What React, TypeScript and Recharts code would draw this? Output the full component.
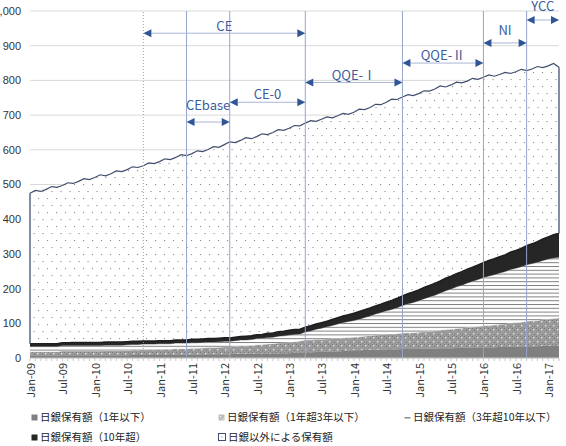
import React from 'react';
import { AreaChart, Area, XAxis, YAxis, CartesianGrid, ReferenceLine, Legend } from 'recharts';

// ---- categories (monthly, Jan-09 .. Mar-17) ----
const YEARS = ['09', '10', '11', '12', '13', '14', '15', '16', '17'];
const MONTH_NAMES = ['Jan', 'Feb', 'Mar', 'Apr', 'May', 'Jun', 'Jul', 'Aug', 'Sep', 'Oct', 'Nov', 'Dec'];
const ALL_MONTHS: string[] = [];
YEARS.forEach((y) => MONTH_NAMES.forEach((m) => ALL_MONTHS.push(`${m}-${y}`)));
const MONTHS = ALL_MONTHS.slice(0, ALL_MONTHS.indexOf('Mar-17') + 1);

const TICK_LABELS = [
  'Jan-09', 'Jul-09', 'Jan-10', 'Jul-10', 'Jan-11', 'Jul-11', 'Jan-12', 'Jul-12', 'Jan-13',
  'Jul-13', 'Jan-14', 'Jul-14', 'Jan-15', 'Jul-15', 'Jan-16', 'Jul-16', 'Jan-17',
];
const Y_TICKS = [0, 100, 200, 300, 400, 500, 600, 700, 800, 900, 1000];

// ---- series ----
// total outstanding (top line)
const TOTAL = [
  475, 483, 480, 486, 494, 492, 497, 505, 503, 509, 517, 514,
  520, 528, 525, 531, 539, 537, 543, 551, 549, 554, 562, 560,
  566, 574, 572, 578, 586, 583, 589, 597, 595, 601, 609, 607,
  615, 623, 621, 627, 635, 632, 638, 646, 644, 650, 658, 656,
  662, 670, 669, 677, 684, 682, 688, 695, 692, 698, 705, 702,
  708, 717, 716, 722, 731, 730, 737, 746, 745, 752, 759, 756,
  762, 770, 769, 775, 784, 781, 787, 795, 793, 798, 806, 803,
  809, 816, 812, 817, 823, 820, 825, 832, 828, 833, 840, 837,
  842, 849, 838,
];
// BOJ holdings, <= 1 year
const BOJ_LE1 = [
  7, 7, 7, 7, 7, 7, 8, 8, 8, 8, 8, 8,
  8, 8, 8, 8, 8, 8, 8, 9, 9, 9, 9, 9,
  9, 9, 9, 10, 10, 10, 10, 10, 10, 11, 11, 11,
  11, 11, 12, 12, 12, 12, 13, 13, 13, 13, 14, 14,
  14, 15, 15, 16, 16, 17, 17, 18, 19, 19, 20, 21,
  22, 22, 23, 23, 24, 24, 25, 25, 25, 26, 26, 26,
  26, 27, 27, 27, 28, 28, 28, 29, 29, 30, 30, 30,
  31, 31, 31, 32, 32, 33, 33, 33, 34, 34, 34, 35,
  35, 36, 36,
];
// BOJ holdings, 1-3 years
const BOJ_1TO3 = [
  11, 11, 11, 11, 11, 11, 12, 12, 12, 12, 12, 12,
  12, 12, 13, 13, 13, 13, 14, 14, 14, 15, 15, 15,
  16, 16, 16, 17, 17, 17, 18, 18, 19, 19, 19, 20,
  21, 21, 22, 23, 23, 24, 25, 26, 27, 28, 29, 30,
  31, 32, 34, 36, 36, 37, 37, 37, 37, 38, 38, 38,
  38, 39, 40, 41, 42, 43, 44, 44, 45, 46, 47, 47,
  48, 49, 50, 51, 52, 54, 55, 56, 57, 58, 59, 61,
  62, 63, 64, 65, 66, 68, 69, 70, 72, 73, 74, 76,
  77, 78, 79,
];
// BOJ holdings, 3-10 years
const BOJ_3TO10 = [
  15, 15, 15, 15, 15, 15, 16, 16, 16, 16, 16, 16,
  16, 16, 16, 16, 16, 16, 16, 16, 16, 16, 16, 16,
  16, 16, 16, 16, 16, 16, 16, 16, 16, 16, 16, 16,
  16, 16, 16, 17, 17, 17, 18, 18, 19, 19, 20, 20,
  21, 21, 20, 23, 26, 29, 32, 35, 38, 41, 44, 46,
  48, 51, 54, 57, 61, 64, 67, 71, 75, 79, 83, 87,
  91, 95, 99, 103, 107, 112, 116, 120, 124, 128, 132, 135,
  139, 142, 145, 148, 151, 154, 157, 160, 163, 165, 168, 170,
  173, 174, 175,
];
// BOJ holdings, > 10 years
const BOJ_OVER10 = [
  8, 8, 8, 8, 8, 8, 8, 8, 9, 9, 9, 9,
  9, 9, 9, 9, 9, 9, 9, 9, 9, 9, 9, 9,
  9, 9, 9, 9, 9, 9, 10, 10, 10, 10, 10, 10,
  10, 10, 10, 10, 11, 11, 11, 11, 12, 12, 13, 13,
  14, 14, 14, 14, 15, 15, 16, 16, 17, 18, 19, 20,
  21, 22, 22, 23, 23, 24, 25, 26, 27, 28, 29, 30,
  31, 32, 33, 34, 35, 36, 37, 38, 39, 40, 41, 42,
  43, 45, 46, 47, 48, 50, 51, 53, 55, 57, 59, 62,
  64, 67, 69,
];

const SERIES_NAMES = [
  '日銀保有額（1年以下）',
  '日銀保有額（1年超3年以下）',
  '日銀保有額（3年超10年以下）',
  '日銀保有額（10年超）',
  '日銀以外による保有額',
];

// policy periods
const PERIOD_LINES = ['Jun-11', 'Feb-12', 'Apr-13', 'Oct-14', 'Jan-16', 'Sep-16'];
const CE_START = 'Oct-10';
const PERIODS = [
  { label: 'CE', from: 'Oct-10', to: 'Apr-13', y: 936, lift: 8 },
  { label: 'CEbase', from: 'Jun-11', to: 'Feb-12', y: 680, lift: 18 },
  { label: 'CE-0', from: 'Feb-12', to: 'Apr-13', y: 737, lift: 9 },
  { label: 'QQE-Ⅰ', from: 'Apr-13', to: 'Oct-14', y: 794, lift: 8 },
  { label: 'QQE-Ⅱ', from: 'Oct-14', to: 'Jan-16', y: 850, lift: 9 },
  { label: 'NI', from: 'Jan-16', to: 'Sep-16', y: 908, lift: 13 },
  { label: 'YCC', from: 'Sep-16', to: 'Mar-17', y: 974, lift: 15 },
];

const data = MONTHS.map((m, i) => ({
  month: m,
  total: TOTAL[i],
  le1: BOJ_LE1[i],
  y1to3: BOJ_1TO3[i],
  y3to10: BOJ_3TO10[i],
  over10: BOJ_OVER10[i],
}));

const bojTop = (i: number) => BOJ_LE1[i] + BOJ_1TO3[i] + BOJ_3TO10[i] + BOJ_OVER10[i];
const LAST = MONTHS.length - 1;

const CJK = '"Noto Sans CJK JP", "Noto Sans", sans-serif';
const NAVY = '#414F6E';
const ARROW = '#2F5597';

const XTick = (props: any) => {
  const { x, y, payload } = props;
  if (!TICK_LABELS.includes(payload.value)) return <g />;
  return (
    <g transform={`translate(${x},${y})`}>
      <text x={0} y={0} dy="0.45em" textAnchor="end" transform="rotate(-90)" fontSize={11} fill="#333" fontFamily={CJK}>
        {payload.value}
      </text>
    </g>
  );
};

const makeArrowShape = (label: string, lift: number) => (p: any) => {
  const { x1, y1, x2 } = p;
  const y = y1;
  const L = 8;
  const H = 4;
  return (
    <g>
      <line x1={x1 + L} y1={y} x2={x2 - L} y2={y} stroke="#A9B7D6" strokeWidth={1} />
      <polygon points={`${x1},${y} ${x1 + L},${y - H} ${x1 + L},${y + H}`} fill={ARROW} />
      <polygon points={`${x2},${y} ${x2 - L},${y - H} ${x2 - L},${y + H}`} fill={ARROW} />
      <text x={(x1 + x2) / 2} y={y - lift} textAnchor="middle" dominantBaseline="central" fontSize={13} fill="#3C5C9E" fontFamily={CJK}>
        {label}
      </text>
    </g>
  );
};

const LegendIcon = ({ kind }: { kind: number }) => {
  switch (kind) {
    case 0:
      return <svg width={7} height={7}><rect x={0.5} y={0.5} width={6} height={6} fill="#808080" /></svg>;
    case 1:
      return <svg width={7} height={7}><rect x={0.5} y={0.5} width={6} height={6} fill="#BDBDBD" /><rect x={2} y={2} width={1} height={1} fill="#fff" /><rect x={4.5} y={4.5} width={1} height={1} fill="#fff" /></svg>;
    case 2:
      return <svg width={7} height={7}><rect x={0.5} y={3} width={6} height={1.5} fill="#8c8c8c" /></svg>;
    case 3:
      return <svg width={7} height={7}><rect x={0.5} y={0.5} width={6} height={6} fill="#262626" /></svg>;
    default:
      return (
        <svg width={8} height={8}>
          <rect x={0.5} y={0.5} width={7} height={7} fill="#fff" stroke={NAVY} strokeWidth={1} />
          <rect x={3.5} y={3.5} width={1} height={1} fill="#777" />
        </svg>
      );
  }
};

const LEGEND_POS = [
  { left: 31, top: 6 },
  { left: 218, top: 6 },
  { left: 404, top: 6 },
  { left: 31, top: 26 },
  { left: 218, top: 26 },
];

const renderLegend = () => (
  <div style={{ position: 'relative', height: 40, width: 566 }}>
    {SERIES_NAMES.map((name, i) => (
      <div
        key={name}
        style={{
          position: 'absolute',
          left: LEGEND_POS[i].left,
          top: LEGEND_POS[i].top,
          display: 'flex',
          alignItems: 'center',
          whiteSpace: 'nowrap',
          fontFamily: CJK,
          fontSize: 10.5,
          lineHeight: '14px',
          color: '#222',
        }}
      >
        <LegendIcon kind={i} />
        <span style={{ marginLeft: 2 }}>{name}</span>
      </div>
    ))}
  </div>
);

export default function App() {
  return (
    <div style={{ position: 'absolute', left: 0, top: 0 }}>
      <AreaChart width={566} height={446} data={data} margin={{ top: 11, right: 7, bottom: 2, left: 0 }}>
        <defs>
          <pattern id="dots" patternUnits="userSpaceOnUse" width={9} height={14}>
            <rect width={9} height={14} fill="#FFFFFF" />
            <rect x={2} y={2} width={1.1} height={1.1} fill="#8C8C8C" />
            <rect x={6.5} y={9} width={1.1} height={1.1} fill="#8C8C8C" />
          </pattern>
          <pattern id="hlines" patternUnits="userSpaceOnUse" width={4} height={3.8}>
            <rect width={4} height={3.8} fill="#FFFFFF" />
            <rect x={0} y={0} width={4} height={1} fill="#808080" />
          </pattern>
          <pattern id="pat13b" patternUnits="userSpaceOnUse" width={8} height={8}>
            <rect width={8} height={8} fill="#9A9A9A" />
            <rect x={0} y={0} width={1} height={1} fill="#7C7C7C" />
            <rect x={2} y={2} width={1} height={1} fill="#7C7C7C" />
            <rect x={4} y={0} width={1} height={1} fill="#7C7C7C" />
            <rect x={6} y={6} width={1} height={1} fill="#7C7C7C" />
            <rect x={1} y={5} width={1.3} height={1.3} fill="#EDEDED" />
            <rect x={5} y={1} width={1.3} height={1.3} fill="#EDEDED" />
          </pattern>
        </defs>
        <CartesianGrid vertical={false} stroke="#D9D9D9" />
        <XAxis
          dataKey="month"
          interval={0}
          tickSize={3}
          tickMargin={2}
          tickLine={{ stroke: '#C8C8C8' }}
          axisLine={{ stroke: '#C8C8C8' }}
          tick={<XTick />}
          height={46}
        />
        <YAxis
          width={30}
          domain={[0, 1000]}
          ticks={Y_TICKS}
          interval={0}
          axisLine={false}
          tickLine={false}
          tickSize={0}
          tickMargin={9}
          tickFormatter={(v: number) => v.toLocaleString('en-US')}
          tick={{ fontSize: 11, fill: '#333', fontFamily: '"Liberation Sans", Arial, sans-serif' }}
        />
        <Area
          type="linear"
          dataKey="total"
          name={SERIES_NAMES[4]}
          fill="url(#dots)"
          fillOpacity={1}
          stroke={NAVY}
          strokeWidth={1.2}
          isAnimationActive={false}
          dot={false}
          activeDot={false}
        />
        <Area type="linear" dataKey="le1" stackId="boj" name={SERIES_NAMES[0]} fill="#808080" fillOpacity={1} stroke="#808080" strokeWidth={0.5} isAnimationActive={false} dot={false} activeDot={false} />
        <Area type="linear" dataKey="y1to3" stackId="boj" name={SERIES_NAMES[1]} fill="url(#pat13b)" fillOpacity={1} stroke="#D0D0D0" strokeWidth={0.8} isAnimationActive={false} dot={false} activeDot={false} />
        <Area type="linear" dataKey="y3to10" stackId="boj" name={SERIES_NAMES[2]} fill="url(#hlines)" fillOpacity={1} stroke="#8C8C8C" strokeWidth={0.8} isAnimationActive={false} dot={false} activeDot={false} />
        <Area type="linear" dataKey="over10" stackId="boj" name={SERIES_NAMES[3]} fill="#262626" fillOpacity={1} stroke="#1E1E1E" strokeWidth={1.5} isAnimationActive={false} dot={false} activeDot={false} />

        <ReferenceLine
          segment={[{ x: MONTHS[0], y: bojTop(0) }, { x: MONTHS[0], y: TOTAL[0] }]}
          stroke={NAVY}
          strokeWidth={1.3}
        />
        <ReferenceLine
          segment={[{ x: MONTHS[LAST], y: bojTop(LAST) }, { x: MONTHS[LAST], y: TOTAL[LAST] }]}
          stroke={NAVY}
          strokeWidth={1.3}
        />
        <ReferenceLine x={CE_START} stroke="#A0A0A0" strokeDasharray="1 2" strokeWidth={1} />
        {PERIOD_LINES.map((m) => (
          <ReferenceLine key={m} x={m} stroke="#95A6CC" strokeWidth={1} />
        ))}
        {PERIODS.map((p) => (
          <ReferenceLine
            key={p.label}
            segment={[{ x: p.from, y: p.y }, { x: p.to, y: p.y }]}
            shape={makeArrowShape(p.label, p.lift)}
          />
        ))}
        <Legend verticalAlign="bottom" content={renderLegend} wrapperStyle={{ left: 0, width: 566 }} />
      </AreaChart>
    </div>
  );
}
